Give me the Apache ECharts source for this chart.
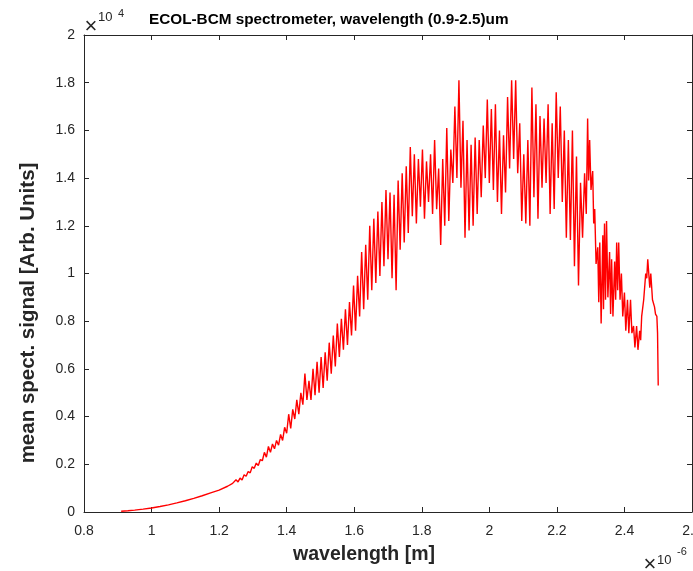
<!DOCTYPE html>
<html>
<head>
<meta charset="utf-8">
<script src="https://cdn.jsdelivr.net/npm/echarts@6/dist/echarts.min.js"></script>
<style>
html,body{margin:0;padding:0;background:#fff;}
#chart{width:693px;height:571px;}
</style>
</head>
<body>
<div id="chart"></div>
<script>
// wavelength in micrometres (axis shows x10^-6 m), signal in counts (axis shows x10^4)
var frontWl = [0.910,0.930,0.950,0.975,1.000,1.025,1.050,1.075,1.100,1.125,1.150,1.175,1.200,1.225,1.240];
var frontSig = [30,50,80,120,170,230,300,380,470,570,680,800,920,1080,1200];

var mainWl = [1.250,1.256,1.262,1.268,1.274,1.280,1.286,1.292,1.298,1.304,
1.310,1.316,1.322,1.328,1.334,1.340,1.346,1.352,1.358,1.364,
1.370,1.376,1.382,1.388,1.394,1.400,1.406,1.412,1.418,1.424,
1.430,1.436,1.442,1.448,1.454,1.460,1.466,1.472,1.478,1.484,
1.490,1.496,1.502,1.508,1.514,1.520,1.526,1.532,1.538,1.544,
1.550,1.556,1.562,1.568,1.574,1.580,1.586,1.592,1.598,1.604,
1.610,1.616,1.622,1.628,1.634,1.640,1.646,1.652,1.658,1.664,
1.670,1.676,1.682,1.688,1.694,1.700,1.706,1.712,1.718,1.724,
1.730,1.736,1.742,1.748,1.754,1.760,1.766,1.772,1.778,1.784,
1.790,1.796,1.802,1.808,1.814,1.820,1.826,1.832,1.838,1.844,
1.850,1.856,1.862,1.868,1.874,1.880,1.886,1.892,1.898,1.904,
1.910,1.916,1.922,1.928,1.934,1.940,1.946,1.952,1.958,1.964,
1.970,1.976,1.982,1.988,1.994,2.000,2.006,2.012,2.018,2.024,
2.030,2.036,2.042,2.048,2.054,2.060,2.066,2.072,2.078,2.084,
2.090,2.096,2.102,2.108,2.114,2.120,2.126,2.132,2.138,2.144,
2.150,2.156,2.162,2.168,2.174,2.180,2.186,2.192,2.198,2.204,
2.210,2.216,2.222,2.228,2.234,2.240,2.246,2.252,2.258,2.264,
2.270,2.276];
var mainSig = [1350,1260,1420,1340,1560,1500,1700,1640,1900,1830,
2050,1950,2200,2150,2500,2300,2750,2500,2850,2650,
3000,2800,3250,3000,3550,3300,4100,3500,4300,3900,
4700,4100,5000,4500,5800,4700,5500,4700,6000,4900,
6300,5000,6500,5200,6700,5500,7100,5800,7400,6100,
7900,6500,8100,6800,8500,7000,8800,7400,9500,7600,
9900,8200,10900,8500,11200,8900,12000,9300,12300,9600,
12600,9900,13000,10300,13500,10600,13400,9800,13300,9300,
13900,11000,14200,11300,14500,11700,15300,12400,15000,12100,
14800,12800,15200,12300,14700,13000,15000,12500,15600,12700,
14400,11200,14800,12000,16100,12200,15200,13800,17000,14000,
18100,13600,16400,11500,15600,11800,15400,12000,15700,12500,
15600,13200,16200,14000,17300,13800,16900,13500,17100,13000,
16000,12500,15800,13400,17400,14400,18100,14800,18100,14200,
16300,12200,15000,12100,15600,12000,17800,13200,17100,12300,
16600,13600,16500,13800,17100,12500,16300,12700,17600,14000,
17000,13000,16000,11500,15600,11400,16000,10300,14900,9500,
13800,11500];

var tailWl = [2.282,2.287,2.291,2.294,2.297,2.301,2.306,2.309,2.312,2.316,
2.321,2.324,2.327,2.331,2.336,2.338,2.341,2.344,2.347,2.351,
2.356,2.359,2.362,2.366,2.371,2.374,2.377,2.380,2.383,2.387,
2.391,2.395,2.400,2.404,2.409,2.413,2.418,2.422,2.427,2.431,
2.436,2.440,2.445,2.448,2.451,2.457,2.463,2.466,2.469,2.475,
2.478,2.483,2.489,2.492,2.496,2.498,2.500];
var tailSig = [14200,12500,16500,13900,15600,13500,14300,12100,12700,10400,
11100,8800,11300,7900,11600,8500,12100,8900,12200,9000,
10900,8300,10600,8200,10500,8900,11300,9300,11300,8900,
10000,8200,9200,7600,8900,7500,8900,7500,7800,6900,
7800,6800,7600,7200,8200,8900,10000,9800,10600,9400,
10000,8900,8600,8300,8200,7500,5300];

var xTicks = [0.8,1,1.2,1.4,1.6,1.8,2,2.2,2.4,2.6];
var yTicks = [0,0.2,0.4,0.6,0.8,1,1.2,1.4,1.6,1.8,2];

var titleText = 'ECOL-BCM spectrometer, wavelength (0.9-2.5)um';
var xLabel = 'wavelength [m]';
var yLabel = 'mean spect. signal [Arb. Units]';

var wl = frontWl.concat(mainWl, tailWl);
var sig = frontSig.concat(mainSig, tailSig);
var pts = wl.map(function(w, i){ return [w, sig[i]]; });

var AX = '#262626';
var FONT = '"Liberation Sans", Arial, Helvetica, sans-serif';

function axisCommon(extra){
  var base = {
    type: 'value',
    axisLine: {show: true, onZero: false, lineStyle: {color: AX, width: 1}},
    axisTick: {show: true, inside: true, length: 5, lineStyle: {color: AX, width: 1}},
    splitLine: {show: false},
    axisLabel: {show: false}
  };
  for (var k in extra) base[k] = extra[k];
  return base;
}

var chart = echarts.init(document.getElementById('chart'), null, {renderer: 'canvas'});
chart.setOption({
  animation: false,
  backgroundColor: '#ffffff',
  title: {
    text: titleText, left: 144, top: 7,
    textStyle: {fontFamily: FONT, fontSize: 15.3, fontWeight: 'bold', color: '#000'}
  },
  grid: {left: 84, right: 1, top: 35, bottom: 59, containLabel: false, outerBoundsMode: 'none'},
  xAxis: [
    axisCommon({position: 'bottom', min: xTicks[0], max: xTicks[xTicks.length-1], interval: 0.2,
      axisLabel: {show: true, color: AX, fontSize: 14, fontFamily: FONT, margin: 12,
        formatter: function(v){ return String(+(+v).toFixed(1)); }}}),
    axisCommon({position: 'top', min: xTicks[0], max: xTicks[xTicks.length-1], interval: 0.2})
  ],
  yAxis: [
    axisCommon({position: 'left', min: 0, max: yTicks[yTicks.length-1]*10000, interval: 2000,
      axisLabel: {show: true, color: AX, fontSize: 14, fontFamily: FONT, margin: 9,
        formatter: function(v){ return String(+(v/10000).toFixed(1)); }}}),
    axisCommon({position: 'right', min: 0, max: yTicks[yTicks.length-1]*10000, interval: 2000})
  ],
  series: [{
    type: 'line', xAxisIndex: 0, yAxisIndex: 0, data: pts,
    showSymbol: false, symbol: 'none',
    lineStyle: {color: '#ff0000', width: 1.4}, z: 1
  }],
  graphic: [
    {type: 'text', x: 91, y: 27, style: {text: '\u00d7', font: '22px ' + FONT, fill: AX, textAlign: 'center', textVerticalAlign: 'middle'}},
    {type: 'text', x: 98, y: 24, style: {text: '10', font: '13px ' + FONT, fill: AX, textAlign: 'left', textVerticalAlign: 'bottom'}},
    {type: 'text', x: 118, y: 19, style: {text: '4', font: '11px ' + FONT, fill: AX, textAlign: 'left', textVerticalAlign: 'bottom'}},
    {type: 'text', x: 650, y: 565, style: {text: '\u00d7', font: '22px ' + FONT, fill: AX, textAlign: 'center', textVerticalAlign: 'middle'}},
    {type: 'text', x: 657, y: 567, style: {text: '10', font: '13px ' + FONT, fill: AX, textAlign: 'left', textVerticalAlign: 'bottom'}},
    {type: 'text', x: 677, y: 557, style: {text: '-6', font: '11px ' + FONT, fill: AX, textAlign: 'left', textVerticalAlign: 'bottom'}},
    {type: 'text', x: 364, y: 555, style: {text: xLabel, font: 'bold 19.5px ' + FONT, fill: AX, textAlign: 'center', textVerticalAlign: 'middle'}},
    {type: 'text', x: 28, y: 313, rotation: Math.PI/2, style: {text: yLabel, font: 'bold 20.5px ' + FONT, fill: AX, textAlign: 'center', textVerticalAlign: 'middle'}}
  ]
});
</script>
</body>
</html>
